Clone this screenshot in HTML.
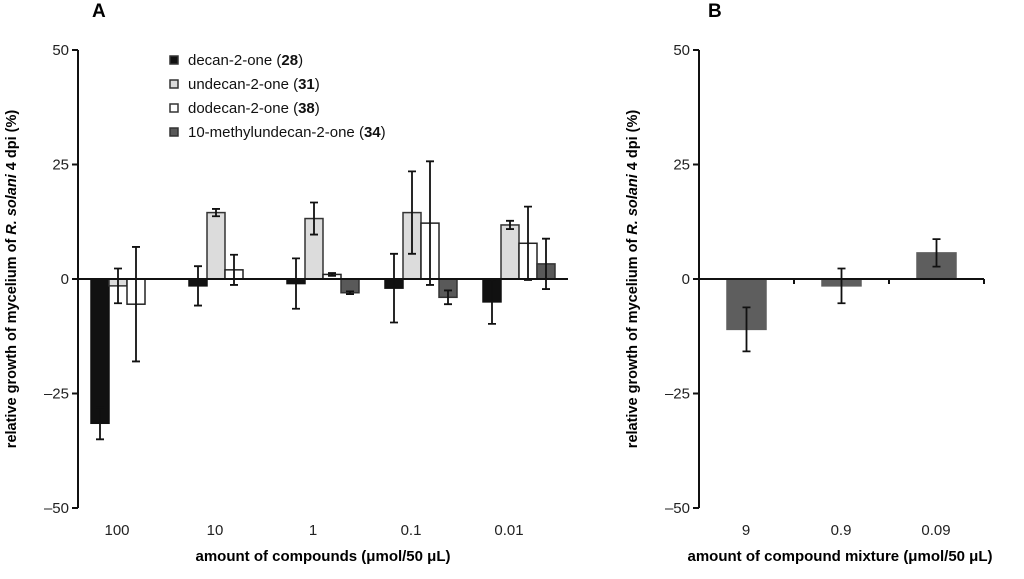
<!DOCTYPE html>
<html><head><meta charset="utf-8"><style>
body{margin:0;background:#fff}
svg{display:block;font-family:"Liberation Sans",Arial,sans-serif}
</style></head><body>
<svg id="c" width="1024" height="579" viewBox="0 0 1024 579">
<text x="92" y="17" font-size="19" font-weight="bold">A</text>
<text x="708" y="17" font-size="19" font-weight="bold">B</text>
<text transform="translate(16,279) rotate(-90)" text-anchor="middle" font-size="14.5" font-weight="bold">relative growth of mycelium of <tspan font-style="italic">R. solani</tspan> 4 dpi (%)</text>
<text transform="translate(637,279) rotate(-90)" text-anchor="middle" font-size="14.5" font-weight="bold">relative growth of mycelium of <tspan font-style="italic">R. solani</tspan> 4 dpi (%)</text>
<text x="323" y="561" text-anchor="middle" font-size="15" font-weight="bold">amount of compounds (μmol/50 μL)</text>
<text x="840" y="561" text-anchor="middle" font-size="15" font-weight="bold">amount of compound mixture (μmol/50 μL)</text>
<g id="A"></g><g id="B"></g><g id="legend"></g>
</svg>
<script>
const yTicks=[50,25,0,-25,-50];
const yTickLabels=["50","25","0","\u201325","\u201350"];
const catsA=["100","10","1","0.1","0.01"];
const seriesNames=["decan-2-one","undecan-2-one","dodecan-2-one","10-methylundecan-2-one"];
const seriesNums=["28","31","38","34"];
const decan=[-31.5,-1.5,-1,-2,-5];
const decanErr=[3.5,4.3,5.5,7.5,4.8];
const undecan=[-1.5,14.5,13.2,14.5,11.8];
const undecanErr=[3.8,0.8,3.5,9,0.9];
const dodecan=[-5.5,2,1,12.2,7.8];
const dodecanErr=[12.5,3.3,0.3,13.5,8];
const methyl=[null,null,-3,-4,3.3];
const methylErr=[null,null,0.3,1.5,5.5];
const catsB=["9","0.9","0.09"];
const mix=[-11,-1.5,5.7];
const mixErr=[4.8,3.8,3];

const NS="http://www.w3.org/2000/svg";
function mk(p,t,a){const e=document.createElementNS(NS,t);for(const k in a)e.setAttribute(k,a[k]);p.appendChild(e);return e;}
const y=v=>279-v*229/50;
const fills=["#111","#dcdcdc","#fff","#595959"];
const strokes=["#111","#333","#222","#333"];

function yAxis(g,x0,x1,name){
  const ax=mk(g,'line',{x1:x0,y1:y(50),x2:x0,y2:y(-50),stroke:'#111','stroke-width':2});
  
  
  yTicks.forEach((t,i)=>{
    const tk=mk(g,'line',{x1:x0-6,y1:y(t),x2:x0,y2:y(t),stroke:'#111','stroke-width':2});
    
    
    const tl=mk(g,'text',{x:x0-9,y:y(t)+5,'text-anchor':'end','font-size':15,fill:'#222'});
    tl.textContent=yTickLabels[i];
    
    
  });
  const z=mk(g,'line',{x1:x0,y1:y(0),x2:x1,y2:y(0),stroke:'#111','stroke-width':2});
  
  
}
function bar(g,x,w,v,e,fill,stroke,name){
  const r=mk(g,'rect',{x:x,y:Math.min(y(v),y(0)),width:w,height:Math.abs(y(v)-y(0)),fill:fill,stroke:stroke,'stroke-width':1.5});
  
  
  const cx=x+w/2;
  const eb=mk(g,'path',{d:`M${cx},${y(v+e)}V${y(v-e)}M${cx-4},${y(v+e)}H${cx+4}M${cx-4},${y(v-e)}H${cx+4}`,stroke:'#111','stroke-width':1.8,fill:'none'});
  
  
}
const gA=document.getElementById('A');
const all=[decan,undecan,dodecan,methyl],allE=[decanErr,undecanErr,dodecanErr,methylErr];
const gw=98,ax0=78;
catsA.forEach((c,i)=>{
  const gx=ax0+13+i*gw;
  for(let s=0;s<4;s++){
    if(all[s][i]===null)continue;
    bar(gA,gx+s*18,18,all[s][i],allE[s][i],fills[s],strokes[s],'bar-'+seriesNums[s]+'-'+c);
  }
  const t=mk(gA,'text',{x:ax0+39+i*gw,y:535,'text-anchor':'middle','font-size':15,fill:'#222'});
  t.textContent=c;
  
  
});
yAxis(gA,ax0,568,'panel-a');

const gB=document.getElementById('B');
const bx0=699,bw=95;
catsB.forEach((c,i)=>{
  bar(gB,bx0+28+i*bw,39,mix[i],mixErr[i],'#5e5e5e','#5e5e5e','bar-mix-'+c);
  const t=mk(gB,'text',{x:bx0+47+i*bw,y:535,'text-anchor':'middle','font-size':15,fill:'#222'});
  t.textContent=c;
  
  
  const tk=mk(gB,'line',{x1:bx0+(i+1)*bw,y1:y(0),x2:bx0+(i+1)*bw,y2:y(0)+5,stroke:'#111','stroke-width':2});
  
  
});
yAxis(gB,bx0,bx0+3*bw,'panel-b');

const gL=document.getElementById('legend');
seriesNames.forEach((n,i)=>{
  const yy=60+i*24;
  const sq=mk(gL,'rect',{x:170,y:yy-4,width:8,height:8,fill:fills[i],stroke:'#333','stroke-width':1.5});
  
  
  const t=mk(gL,'text',{x:188,y:yy+5,'font-size':15,fill:'#111'});
  t.innerHTML=n+' (<tspan font-weight="bold">'+seriesNums[i]+'</tspan>)';
  
  
});
</script>
</body></html>
